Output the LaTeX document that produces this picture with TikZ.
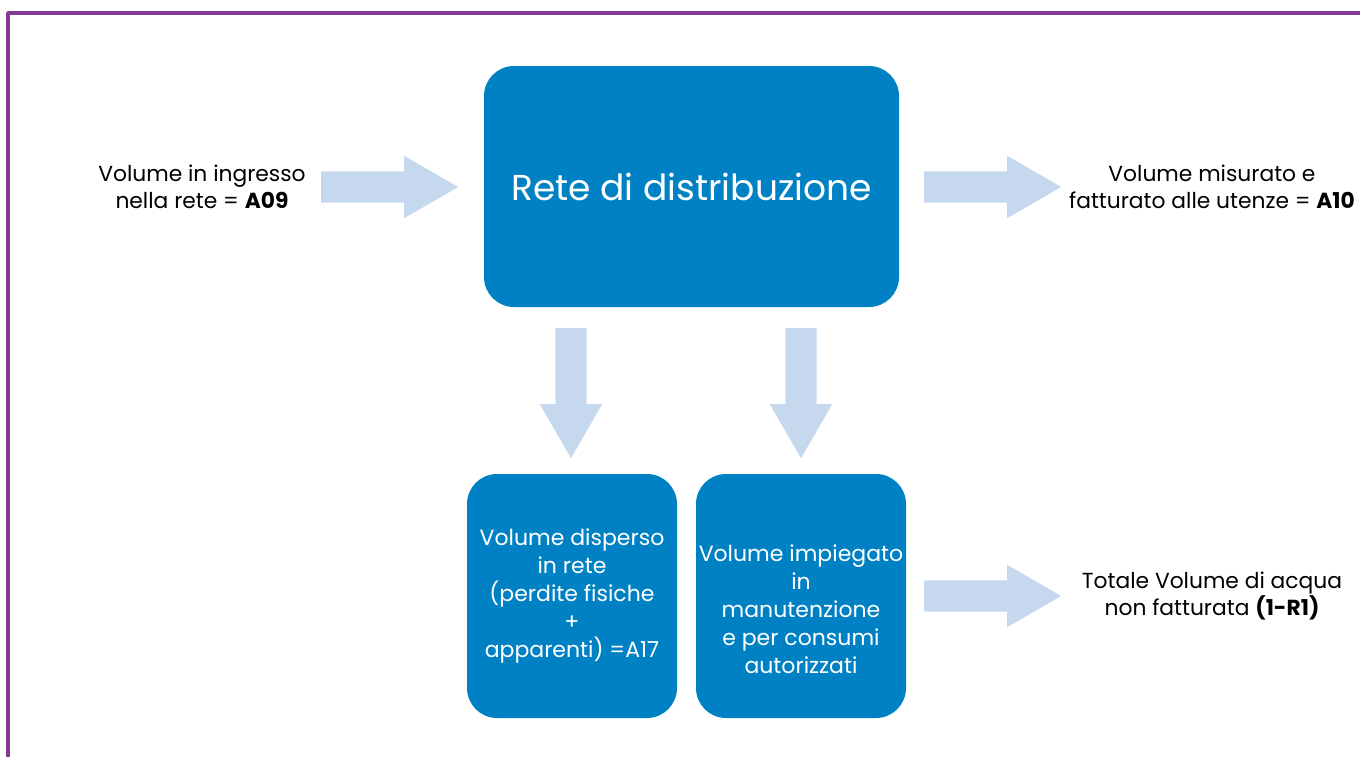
\documentclass[tikz,border=0pt]{standalone}
\usepackage{fontspec}
\setmainfont{Poppins}
\usetikzlibrary{shapes.arrows}
\definecolor{netblue}{RGB}{0,129,196}
\definecolor{flowblue}{RGB}{197,216,237}
\definecolor{framepurple}{RGB}{130,58,148}
\tikzset{
  netbox/.style={fill=netblue,rounded corners=30pt,text=white,align=center,inner sep=0pt},
  flow/.style={shape=single arrow,fill=flowblue,draw=none,inner sep=15.5pt,
    single arrow head extend=15.5pt,single arrow tip angle=60,minimum height=137pt},
  lbl/.style={align=center,font=\fontsize{21.8}{27}\selectfont},
  boxlbl/.style={align=center,text=white,font=\fontsize{22}{28}\selectfont}
}

\begin{document}
\begin{tikzpicture}
			[line cap=round,line join=round,x=1pt,y=-1pt]
			\useasboundingbox (0,0) rectangle (1360,756);
			\clip (0,0) rectangle (1360,756);
			% frame
			\draw [framepurple,line width=3.5pt,line cap=butt] (8,770) -- (8,13) -- (1375,13);
			% boxes
			\node [netbox,minimum width=415pt,minimum height=241pt,font=\fontsize{36}{40}\selectfont] (net) at (691.5,186.5) {Rete di distribuzione};
			\node [netbox,minimum width=210pt,minimum height=244pt] (loss) at (572,596) {};
			\node [netbox,minimum width=210pt,minimum height=244pt] (maint) at (801,596) {};
			\node [boxlbl] (losstext) at (loss.center) {Volume disperso\\in rete\\(perdite fisiche\\+\\apparenti) =A17};
			\node [boxlbl] (mainttext) at ([yshift=-13pt]maint.center) {Volume impiegato\\in\\manutenzione\\e per consumi\\autorizzati};
			% labels
			\node [lbl] (in) at (202,187) {Volume in ingresso\\nella rete = \textbf{A09}};
			\node [lbl] (out) at (1212,187) {Volume misurato e\\fatturato alle utenze = \textbf{A10}};
			\node [lbl] (nonbill) at (1212,596) {Totale Volume di acqua\\non fatturata \textbf{(1-R1)}};
			% flows
			\node [flow,anchor=tail] (arrIn) at (321,187) {};
			\node [flow,anchor=tail] (arrOut) at (924,187) {};
			\node [flow,anchor=tail] (arrNon) at (924,596) {};
			\node [flow,anchor=tail,shape border rotate=270,minimum height=130pt] (arrLoss) at (571,328) {};
			\node [flow,anchor=tail,shape border rotate=270,minimum height=130pt] (arrMaint) at (801,328) {};
		\end{tikzpicture}
\end{document}
